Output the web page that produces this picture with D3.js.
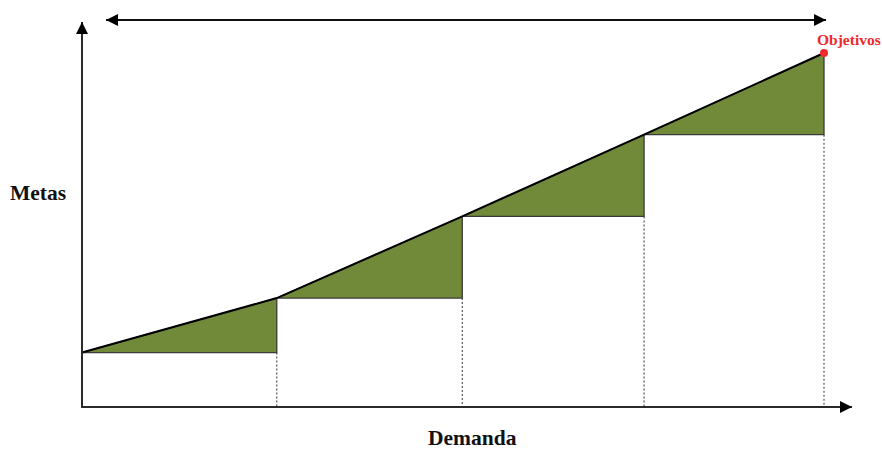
<!DOCTYPE html>
<html><head><meta charset="utf-8">
<script src="https://cdn.jsdelivr.net/npm/d3@7"></script>
<style>body{margin:0;background:#fff}svg{display:block}</style>
</head><body>
<script>
// Data
const demanda = [0, 10.5, 20.5, 30.3, 40];
const metas = [2, 4, 7, 10, 13];
const yLabel = "Metas";
const xLabel = "Demanda";
const goalLabel = "Objetivos";

const W = 882, H = 449;
const svg = d3.select("body").append("svg").attr("width", W).attr("height", H);
const x = d3.scaleLinear().domain([0, 40]).range([82, 824]);
const y = d3.scaleLinear().domain([0, 13]).range([407, 53]);

const green = "#718a3a", axisCol = "#2a2a2a";
const defs = svg.append("defs");
defs.append("marker").attr("id","arr").attr("viewBox","0 0 10 10").attr("refX",10).attr("refY",5)
  .attr("markerWidth",14).attr("markerHeight",12).attr("markerUnits","userSpaceOnUse").attr("orient","auto-start-reverse")
  .append("path").attr("d","M0,0L10,5L0,10Z").attr("fill","#000");

const pts = demanda.map((d,i)=>({x:d,y:metas[i]}));
const segs = d3.pairs(pts);

// dotted verticals below steps
svg.selectAll(".dot").data(pts.slice(1)).join("line")
  .attr("x1",d=>x(d.x)).attr("x2",d=>x(d.x))
  .attr("y1",(d,i)=>y(pts[i].y)).attr("y2",y(0))
  .attr("stroke","#555").attr("stroke-width",1.2).attr("stroke-dasharray","2,2");

// triangles
svg.selectAll(".tri").data(segs).join("path")
  .attr("d",([a,b])=>`M${x(a.x)},${y(a.y)}L${x(b.x)},${y(b.y)}L${x(b.x)},${y(a.y)}Z`)
  .attr("fill",green).attr("stroke","#3a3a3a").attr("stroke-width",1.3);

// hypotenuse line
svg.append("path").datum(pts)
  .attr("d",d3.line().x(d=>x(d.x)).y(d=>y(d.y)))
  .attr("fill","none").attr("stroke","#000").attr("stroke-width",2);

// axes
svg.append("line").attr("x1",x(0)).attr("y1",y(0)).attr("x2",x(0)).attr("y2",22)
  .attr("stroke",axisCol).attr("stroke-width",2).attr("marker-end","url(#arr)");
svg.append("line").attr("x1",x(0)-1).attr("y1",y(0)).attr("x2",852).attr("y2",y(0))
  .attr("stroke",axisCol).attr("stroke-width",2).attr("marker-end","url(#arr)");
// top double arrow
svg.append("line").attr("x1",106).attr("y1",20).attr("x2",826).attr("y2",20)
  .attr("stroke","#111").attr("stroke-width",2)
  .attr("marker-start","url(#arr)").attr("marker-end","url(#arr)");

// goal point
const last = pts[pts.length-1];
svg.append("circle").attr("cx",x(last.x)).attr("cy",y(last.y)).attr("r",4).attr("fill","#ee2a2a");
svg.append("text").attr("x",x(last.x)-7).attr("y",45).text(goalLabel)
  .attr("font-family","Liberation Serif").attr("font-weight","bold").attr("font-size",15.5).attr("fill","#ee2a2a");

svg.append("text").attr("x",10).attr("y",200).text(yLabel)
  .attr("font-family","Liberation Serif").attr("font-weight","bold").attr("font-size",21.5).attr("fill","#111");
svg.append("text").attr("x",428).attr("y",445).text(xLabel)
  .attr("font-family","Liberation Serif").attr("font-weight","bold").attr("font-size",21.5).attr("fill","#111");
</script>
</body></html>
